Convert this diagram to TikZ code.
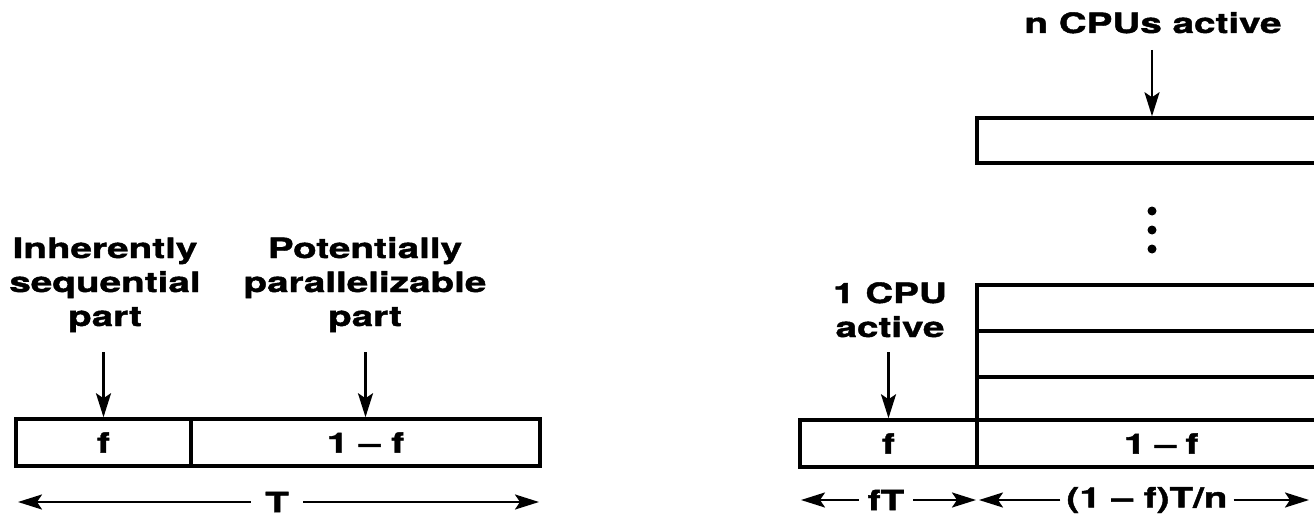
\documentclass[tikz,border=0pt]{standalone}
\usepackage{fontspec}
\newfontfamily\lblfont{TeX Gyre Heros}[FakeStretch=1.38, FakeBold=1.5]
\usetikzlibrary{arrows.meta}
\begin{document}
\begin{tikzpicture}[x=1pt,y=-1pt,
  lbl/.style={font=\lblfont\bfseries\fontsize{28}{34}\selectfont, inner sep=0pt, align=center, anchor=base},
  bar/.style={draw, line width=3.5pt, inner sep=0pt, font=\lblfont\bfseries\fontsize{28}{34}\selectfont},
  arr/.style={line width=2.4pt, -{Stealth[length=24pt,width=15pt,inset=5pt]}},
  dim/.style={font=\lblfont\bfseries\fontsize{28}{34}\selectfont, inner ysep=0pt}
]
\useasboundingbox (0,0) rectangle (1314,524);
\clip (0,0) rectangle (1314,524);
% ---- left diagram ----
\node[bar, minimum width=175pt, minimum height=47pt] (f1) at (103.5,442.5) {f};
\node[bar, minimum width=349pt, minimum height=47pt] (p1) at (365.5,442.5) {1 – f};
\node[lbl] (seq) at (105,326) {Inherently\\sequential\\part};
\node[lbl] (par) at (365,326) {Potentially\\parallelizable\\part};
\coordinate (sa) at (103.5,352);
\coordinate (pa) at (365.5,352);
\draw[arr] (sa) -- (f1.north);
\draw[arr] (pa) -- (p1.north);
\node[dim, inner xsep=14pt] (T) at (277,502) {T};
\coordinate (Tl) at (18,502);
\coordinate (Tr) at (539,502);
\draw[arr] (T.west) -- (Tl);
\draw[arr] (T.east) -- (Tr);
% ---- right diagram ----
\node[bar, minimum width=177pt, minimum height=47pt] (f2) at (888.5,443.5) {f};
\node[bar, minimum width=363pt, minimum height=47pt, text width=337pt, align=left] (p2) at (1158.5,443.5) {\hspace*{134pt}1 – f};
\node[bar, minimum width=363pt, minimum height=43pt] (r1) at (1158.5,398.5) {};
\node[bar, minimum width=363pt, minimum height=46pt] (r2) at (1158.5,354) {};
\node[bar, minimum width=363pt, minimum height=46pt] (r3) at (1158.5,308) {};
\node[bar, minimum width=363pt, minimum height=45pt] (top) at (1158.5,140.5) {};
\foreach \yy/\nm in {211/d1,230/d2,249/d3}
  \fill (1152,\yy) circle (4.5pt);
\node[lbl] (ncpu) at (1153,33) {n CPUs active};
\node[lbl] (onecpu) at (890,337) {1 CPU\\active};
\coordinate (na) at (1152,50);
\coordinate (oa) at (888.5,352);
\draw[arr] (na) -- (na |- top.north);
\draw[arr] (oa) -- (f2.north);
\node[dim, inner xsep=9pt] (fT) at (886,500) {fT};
\coordinate (fTl) at (801,500);
\coordinate (fTr) at (976,500);
\draw[arr] (fT.west) -- (fTl);
\draw[arr] (fT.east) -- (fTr);
\node[dim, inner xsep=6pt] (pT) at (1147,500) {(1 – f)T/n};
\coordinate (pTl) at (979,500);
\coordinate (pTr) at (1309,500);
\draw[arr] (pT.west) -- (pTl);
\draw[arr] (pT.east) -- (pTr);
\end{tikzpicture}
\end{document}
